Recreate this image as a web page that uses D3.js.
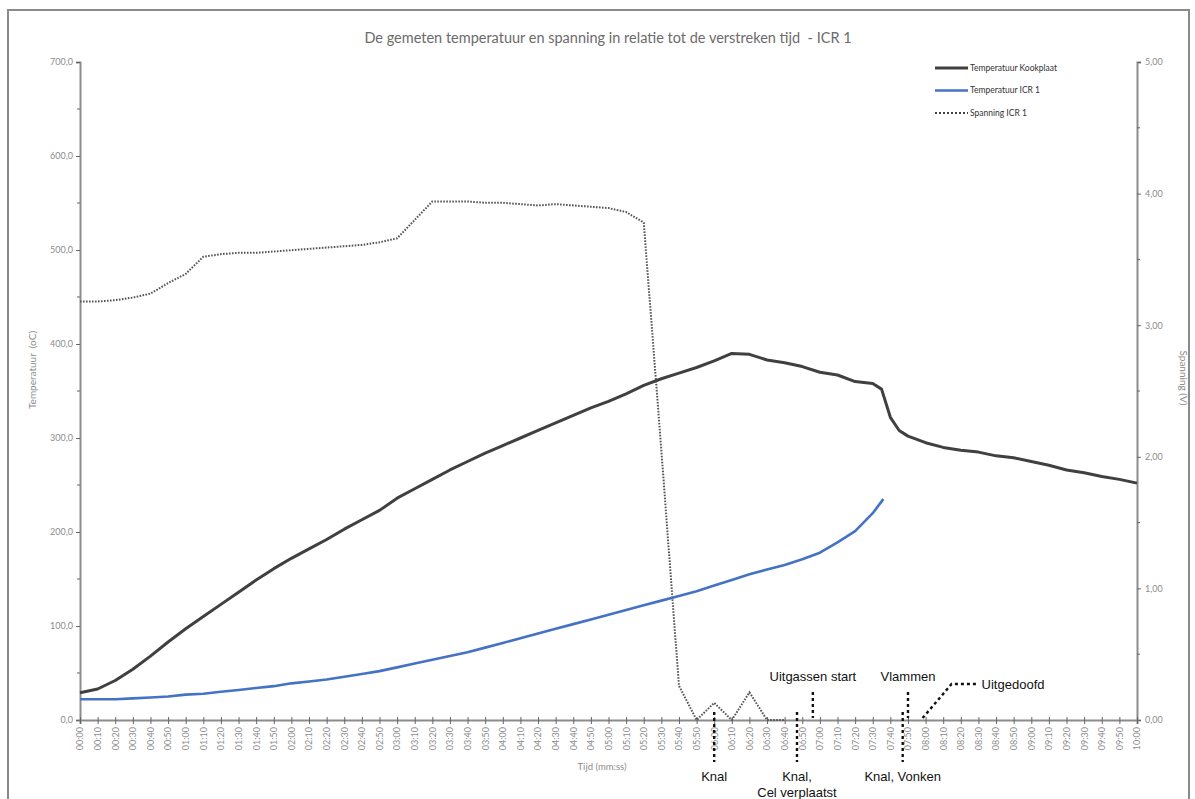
<!DOCTYPE html>
<html>
<head>
<meta charset="utf-8">
<script src="https://cdn.jsdelivr.net/npm/d3@7/dist/d3.min.js"></script>
<style>
  html, body { margin: 0; padding: 0; background: #fff; }
  svg { display: block; }
  text { white-space: pre; }
</style>
</head>
<body>
<svg id="chart" width="1195" height="799"></svg>
<script>
// Time (s) and readings for the hot plate temperature
const kookTijd = [0,10,20,30,40,50,60,70,80,90,100,110,120,130,140,150,160,170,180,190,200,210,220,230,240,250,260,270,280,290,300,310,320,330,340,350,360,370,380,390,400,410,420,430,440,450,455,460,465,470,480,490,500,510,520,530,540,550,560,570,580,590,600];
const kookTemp = [29,33,42,54,68,83,97,110,123,136,149,161,172,182,192,203,213,223,236,246,256,266,275,284,292,300,308,316,324,332,339,347,356,363,369,375,382,390,389,383,380,376,370,367,360,358,352,322,308,302,295,290,287,285,281,279,275,271,266,263,259,256,252];

// Time (s) and readings for the cell temperature ICR 1
const icrTijd = [0,10,20,30,40,50,60,70,80,90,100,110,120,130,140,150,160,170,180,190,200,210,220,230,240,250,260,270,280,290,300,310,320,330,340,350,360,370,380,390,400,410,420,430,440,450,456];
const icrTemp = [22,22,22,23,24,25,27,28,30,32,34,36,39,41,43,46,49,52,56,60,64,68,72,77,82,87,92,97,102,107,112,117,122,127,132,137,143,149,155,160,165,171,178,189,201,220,235];

// Time (s) and cell voltage ICR 1
const spanTijd = [0,10,20,30,40,50,60,70,80,90,100,110,120,130,140,150,160,170,180,190,200,210,220,230,240,250,260,270,280,290,300,310,320,330,340,350,360,370,380,390,400];
const spanV = [3.18,3.18,3.19,3.21,3.24,3.32,3.39,3.52,3.54,3.55,3.55,3.56,3.57,3.58,3.59,3.60,3.61,3.63,3.66,3.80,3.94,3.94,3.94,3.93,3.93,3.92,3.91,3.92,3.91,3.90,3.89,3.86,3.78,2.05,0.26,0,0.13,0,0.21,0,0];

// Axis ticks
const xTicks = d3.range(0, 601, 10);
const tempTicks = [0,100,200,300,400,500,600,700];
const voltTicks = [0,1,2,3,4,5];

// Event annotations below / above the time axis
const eventsBelow = [
  {t: 360, lines: ["Knal"]},
  {t: 407, lines: ["Knal,", "Cel verplaatst"]},
  {t: 467, lines: ["Knal, Vonken"]}
];
const eventsAbove = [
  {t: 416, label: "Uitgassen start"},
  {t: 470, label: "Vlammen"}
];

const svg = d3.select("#chart");
const W = 1195, H = 799;
const m = {left: 80, right: 1137, top: 62, bottom: 720};

svg.append("rect").attr("width", W).attr("height", H).attr("fill", "#fff");
// chart frame
svg.append("rect").attr("x", 8).attr("y", 10).attr("width", 1181).attr("height", 820)
  .attr("fill", "none").attr("stroke", "#8a8a8a").attr("stroke-width", 2);

const x = d3.scaleLinear().domain([0, 600]).range([m.left, m.right]);
const yT = d3.scaleLinear().domain([0, 700]).range([m.bottom, m.top]);
const yV = d3.scaleLinear().domain([0, 5]).range([m.bottom, m.top]);

const fmtT = d3.format(".1f");
const fmtV = d3.format(".2f");
const comma = s => s.replace(".", ",");
const mmss = s => String(Math.floor(s / 60)).padStart(2, "0") + ":" + String(s % 60).padStart(2, "0");

const axisColor = "#8c8c8c";
const tickText = "#8c8c8c";
const font = "Lato, 'Open Sans', sans-serif";

// Title
svg.append("text").attr("x", 608).attr("y", 43).attr("text-anchor", "middle")
  .attr("font-family", font).attr("font-size", 14.5).attr("fill", "#6b6b6b")
  .text("De gemeten temperatuur en spanning in relatie tot de verstreken tijd  - ICR 1");

// Left axis
const leftAxis = d3.axisLeft(yT).tickValues(tempTicks).tickSize(4).tickFormat(d => comma(fmtT(d)));
const gL = svg.append("g").attr("transform", `translate(${m.left},0)`).call(leftAxis);
gL.selectAll(".tick line").attr("stroke", "#666");
svg.append("g").selectAll("line").data(d3.range(50, 700, 100)).join("line")
  .attr("x1", m.left - 3).attr("x2", m.left).attr("y1", d => yT(d)).attr("y2", d => yT(d)).attr("stroke", "#666");

// Right axis
const rightAxis = d3.axisRight(yV).tickValues(voltTicks).tickSize(4).tickFormat(d => comma(fmtV(d)));
const gR = svg.append("g").attr("transform", `translate(${m.right},0)`).call(rightAxis);
gR.selectAll(".tick line").attr("stroke", "#666");
svg.append("g").selectAll("line").data(d3.range(0.5, 5, 1)).join("line")
  .attr("x1", m.right).attr("x2", m.right + 3).attr("y1", d => yV(d)).attr("y2", d => yV(d)).attr("stroke", "#666");

// Bottom axis
const bottomAxis = d3.axisBottom(x).tickValues(xTicks).tickSize(4).tickFormat(mmss);
const gB = svg.append("g").attr("transform", `translate(0,${m.bottom})`).call(bottomAxis);
gB.selectAll(".tick line").attr("y1", -3).attr("stroke", "#666");
gB.selectAll(".tick text")
  .attr("transform", "rotate(-90)")
  .attr("text-anchor", "end").attr("x", -7).attr("y", 0).attr("dy", "0.32em");

[gL, gR, gB].forEach(g => {
  g.select(".domain").attr("stroke", axisColor).attr("stroke-width", 2);
  g.selectAll(".tick text").attr("font-family", font).attr("font-size", 9).attr("fill", tickText);
});
gL.selectAll(".tick text").attr("x", -7);
gR.selectAll(".tick text").attr("x", 8);

// Axis titles
svg.append("text").attr("transform", "translate(36,370) rotate(-90)")
  .attr("text-anchor", "middle").attr("font-family", font).attr("font-size", 10).attr("fill", tickText)
  .text("Temperatuur  (oC)");
svg.append("text").attr("transform", "translate(1180,378) rotate(90)")
  .attr("text-anchor", "middle").attr("font-family", font).attr("font-size", 10).attr("fill", tickText)
  .text("Spanning (V)");
svg.append("text").attr("x", 602).attr("y", 770).attr("text-anchor", "middle")
  .attr("font-family", font).attr("font-size", 9.5).attr("fill", tickText)
  .text("Tijd (mm:ss)");

// Series
const lineT = (ts, vs) => d3.line().x((d, i) => x(ts[i])).y(d => yT(d))(vs);
const lineV = (ts, vs) => d3.line().x((d, i) => x(ts[i])).y(d => yV(d))(vs);

svg.append("path").attr("d", lineV(spanTijd, spanV)).attr("fill", "none")
  .attr("stroke", "#555").attr("stroke-width", 2).attr("stroke-dasharray", "1.6 1.4");
svg.append("path").attr("d", lineT(kookTijd, kookTemp)).attr("fill", "none")
  .attr("stroke", "#404040").attr("stroke-width", 3).attr("stroke-linejoin", "round");
svg.append("path").attr("d", lineT(icrTijd, icrTemp)).attr("fill", "none")
  .attr("stroke", "#4472c4").attr("stroke-width", 2.6).attr("stroke-linejoin", "round");

// Legend
const legend = [
  {name: "Temperatuur Kookplaat", color: "#404040", w: 3, dash: null},
  {name: "Temperatuur ICR 1", color: "#4472c4", w: 2.6, dash: null},
  {name: "Spanning ICR 1", color: "#404040", w: 2, dash: "2 2"}
];
const lg = svg.append("g");
legend.forEach((d, i) => {
  const yy = 68 + i * 22.5;
  lg.append("line").attr("x1", 935).attr("x2", 968).attr("y1", yy).attr("y2", yy)
    .attr("stroke", d.color).attr("stroke-width", d.w).attr("stroke-dasharray", d.dash);
  lg.append("text").attr("x", 970).attr("y", yy).attr("dy", "0.35em")
    .attr("font-family", font).attr("font-size", 8.5).attr("fill", "#333").text(d.name);
});

// Annotations
const annFont = "'Liberation Sans', Arial, sans-serif";
const dash = {stroke: "#111", "stroke-width": 2.4, "stroke-dasharray": "3 3"};
function applyDash(sel) { Object.entries(dash).forEach(([k, v]) => sel.attr(k, v)); return sel; }

eventsBelow.forEach(e => {
  applyDash(svg.append("line").attr("x1", x(e.t)).attr("x2", x(e.t)).attr("y1", 712).attr("y2", 762));
  e.lines.forEach((s, j) => {
    svg.append("text").attr("x", x(e.t)).attr("y", 781 + j * 16).attr("text-anchor", "middle")
      .attr("font-family", annFont).attr("font-size", 13).attr("fill", "#111").text(s);
  });
});
eventsAbove.forEach(e => {
  applyDash(svg.append("line").attr("x1", x(e.t)).attr("x2", x(e.t)).attr("y1", 692).attr("y2", 718));
  svg.append("text").attr("x", x(e.t)).attr("y", 681).attr("text-anchor", "middle")
    .attr("font-family", annFont).attr("font-size", 13).attr("fill", "#111").text(e.label);
});
// "Uitgedoofd" with an elbow leader starting at 08:00
const tOut = 480;
applyDash(svg.append("path").attr("fill", "none")
  .attr("d", d3.line()([[x(tOut) - 3, 718], [x(tOut) + 26, 684], [x(tOut) + 52, 684]])));
svg.append("text").attr("x", x(tOut) + 56).attr("y", 689)
  .attr("font-family", annFont).attr("font-size", 13).attr("fill", "#111").text("Uitgedoofd");
</script>
</body>
</html>
